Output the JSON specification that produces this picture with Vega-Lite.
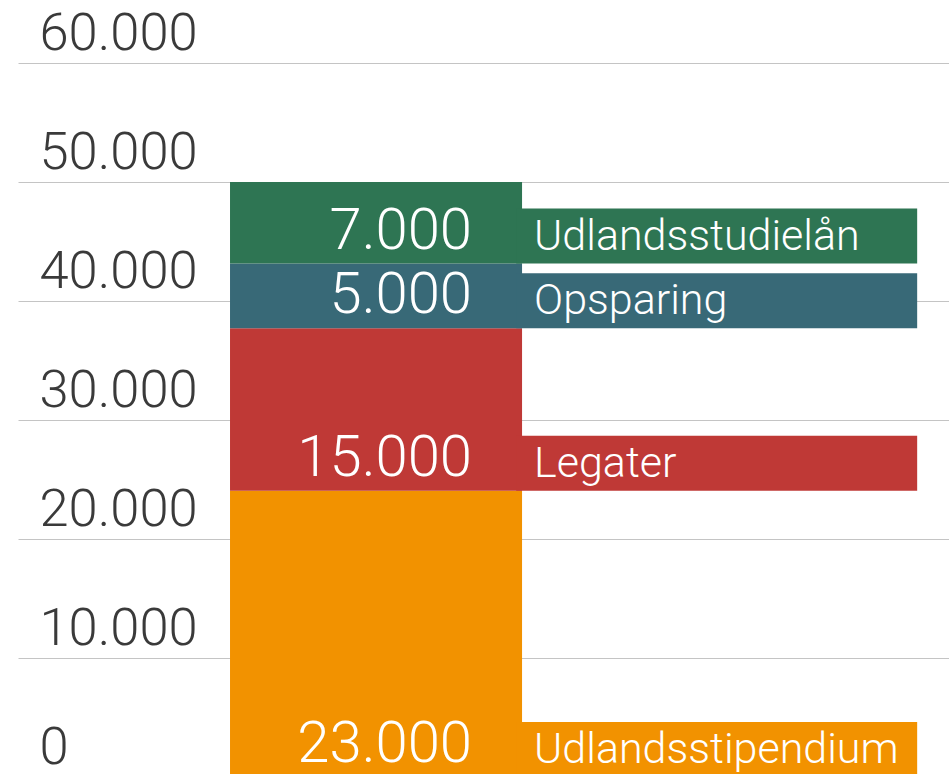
{
  "$schema": "https://vega.github.io/schema/vega-lite/v6.json",
  "width": 931,
  "height": 714,
  "autosize": "none",
  "padding": {"left": 18, "top": 63, "right": 0, "bottom": 0},
  "background": "white",
  "config": {
    "view": {"stroke": null},
    "locale": {"number": {"decimal": ",", "thousands": ".", "grouping": [3], "currency": ["", " kr."]}}
  },
  "data": {
    "values": [
      {"kategori": "Udlandsstipendium", "beløb": 23000, "fra": 0, "til": 24050},
      {"kategori": "Legater", "beløb": 15000, "fra": 24050, "til": 37700},
      {"kategori": "Opsparing", "beløb": 5000, "fra": 37700, "til": 43150},
      {"kategori": "Udlandsstudielån", "beløb": 7000, "fra": 43150, "til": 50000}
    ]
  },
  "encoding": {
    "y": {
      "field": "fra",
      "type": "quantitative",
      "scale": {"domain": [0, 60000], "nice": false, "zero": true},
      "axis": {
        "title": null,
        "domain": false,
        "ticks": false,
        "tickSize": 0,
        "values": [0, 10000, 20000, 30000, 40000, 50000, 60000],
        "format": ",d",
        "grid": true,
        "gridColor": "#c4c4c4",
        "gridWidth": 1,
        "labelAlign": "left",
        "labelBaseline": "alphabetic",
        "labelPadding": -21,
        "labelOffset": -14,
        "labelFont": "Roboto",
        "labelFontWeight": 300,
        "labelFontSize": 52.5,
        "labelColor": "#3a3a3a",
        "labelFlush": false,
        "labelOverlap": false
      }
    }
  },
  "layer": [
    {
      "mark": {"type": "bar"},
      "encoding": {
        "x": {"datum": 0, "type": "quantitative", "scale": {"domain": [-0.726, 2.462], "nice": false, "zero": false}, "axis": null},
        "x2": {"datum": 1},
        "y2": {"field": "til"},
        "color": {
          "field": "kategori",
          "type": "nominal",
          "scale": {
            "domain": ["Udlandsstipendium", "Legater", "Opsparing", "Udlandsstudielån"],
            "range": ["#f29200", "#bf3936", "#386977", "#2e7553"]
          },
          "legend": null
        }
      }
    },
    {
      "mark": {"type": "rule", "strokeWidth": 55, "strokeCap": "butt", "yOffset": -27.5},
      "encoding": {
        "x": {"datum": 0.98, "type": "quantitative"},
        "x2": {"datum": 2.353},
        "color": {"field": "kategori", "type": "nominal"}
      }
    },
    {
      "mark": {"type": "text", "align": "right", "baseline": "alphabetic", "dx": -50, "dy": -15, "font": "Roboto", "fontWeight": 300, "fontSize": 58, "color": "white"},
      "encoding": {
        "x": {"datum": 1, "type": "quantitative"},
        "text": {"field": "beløb", "type": "quantitative", "format": ",d"}
      }
    },
    {
      "mark": {"type": "text", "align": "left", "baseline": "alphabetic", "dx": 12, "dy": -14, "font": "Roboto", "fontWeight": 300, "fontSize": 43, "color": "white"},
      "encoding": {
        "x": {"datum": 1, "type": "quantitative"},
        "text": {"field": "kategori", "type": "nominal"}
      }
    }
  ]
}
